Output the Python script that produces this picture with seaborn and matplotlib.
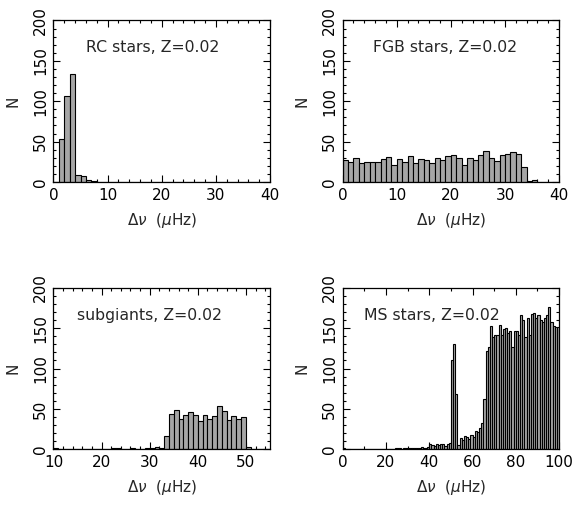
import matplotlib
matplotlib.use("Agg")
import matplotlib.pyplot as plt
from matplotlib.ticker import MultipleLocator
import seaborn as sns
import numpy as np

# bin lower edges (1 muHz bins) and counts
rc_bins = list(range(0, 40))
rc_counts = [0, 53, 107, 134, 9, 7, 2, 1] + [0] * 32

fgb_bins = list(range(0, 40))
fgb_counts = [27, 25, 30, 24, 25, 25, 25, 29, 31, 21,
              28, 25, 32, 23, 29, 27, 24, 30, 27, 32,
              33, 30, 21, 30, 27, 33, 39, 30, 26, 33,
              35, 37, 35, 18, 1, 3, 0, 0, 0, 0]

sg_bins = list(range(10, 55))
sg_counts = [1, 0, 0, 0, 0, 0, 0, 0, 0, 0,
             0, 0, 1, 1, 0, 0, 1, 0, 0, 2,
             1, 3, 2, 16, 44, 49, 38, 42, 46, 43,
             35, 43, 38, 41, 53, 47, 36, 41, 37, 40,
             3, 0, 0, 0, 0]

ms_bins = list(range(0, 100))
ms_counts = [2, 0, 0, 0, 0, 0, 0, 0, 0, 0,
             0, 0, 0, 0, 0, 0, 0, 0, 0, 0,
             0, 0, 0, 0, 1, 2, 1, 0, 1, 2,
             1, 2, 2, 2, 1, 2, 3, 1, 2, 3,
             6, 5, 4, 7, 5, 7, 6, 4, 7, 8,
             110, 130, 68, 5, 14, 11, 17, 15, 13, 18,
             15, 23, 22, 26, 32, 62, 122, 127, 153, 139,
             141, 141, 154, 142, 149, 150, 144, 146, 127, 146,
             147, 142, 166, 160, 139, 163, 142, 168, 169, 163,
             166, 160, 157, 162, 166, 176, 157, 153, 151, 151]

titles = ["RC stars, Z=0.02", "FGB stars, Z=0.02",
          "subgiants, Z=0.02", "MS stars, Z=0.02"]
xlims = [(0, 40), (0, 40), (10, 55), (0, 100)]
xmajor = [10, 10, 10, 20]
xminor = [2, 2, 2, 10]
title_x = [0.15, 0.14, 0.11, 0.10]

sns.set_style("ticks")
plt.rcParams["font.family"] = ["DejaVu Sans"]
plt.rcParams["mathtext.fontset"] = "dejavusans"

fig = plt.figure(figsize=(5.72, 5.08), dpi=100)
w, h = 0.3785, 0.318
positions = [(0.0935, 0.6417), (0.599, 0.6417), (0.0935, 0.1156), (0.599, 0.1156)]

data = [(rc_bins, rc_counts), (fgb_bins, fgb_counts),
        (sg_bins, sg_counts), (ms_bins, ms_counts)]

for i, (bins, counts) in enumerate(data):
    ax = fig.add_axes([positions[i][0], positions[i][1], w, h])
    lo, hi = xlims[i]
    centers = np.array(bins) + 0.5
    sns.histplot(x=centers, weights=counts, binwidth=1, binrange=(lo, hi),
                 color="#a6a6a6", edgecolor="black", linewidth=0.8,
                 alpha=1, ax=ax)
    ax.set_xlim(lo, hi)
    ax.set_ylim(0, 200)
    ax.xaxis.set_major_locator(MultipleLocator(xmajor[i]))
    ax.xaxis.set_minor_locator(MultipleLocator(xminor[i]))
    ax.yaxis.set_major_locator(MultipleLocator(50))
    ax.yaxis.set_minor_locator(MultipleLocator(10))
    ax.tick_params(which="both", direction="in", top=True, right=True,
                   labelsize=11, width=0.8, color="black", labelcolor="black")
    ax.tick_params(which="major", length=5, pad=4)
    ax.tick_params(which="minor", length=2.5)
    for lab in ax.get_yticklabels():
        lab.set_rotation(90)
        lab.set_va("center")
    for sp in ax.spines.values():
        sp.set_linewidth(0.9)
        sp.set_color("black")
    ax.set_xlabel(r"$\Delta\nu$  ($\mu$Hz)", fontsize=11, labelpad=6)
    ax.set_ylabel("N", fontsize=11, labelpad=9)
    ax.text(title_x[i], 0.83, titles[i], transform=ax.transAxes,
            fontsize=11.3, va="center", ha="left")

fig.savefig("out.png", dpi=100)
